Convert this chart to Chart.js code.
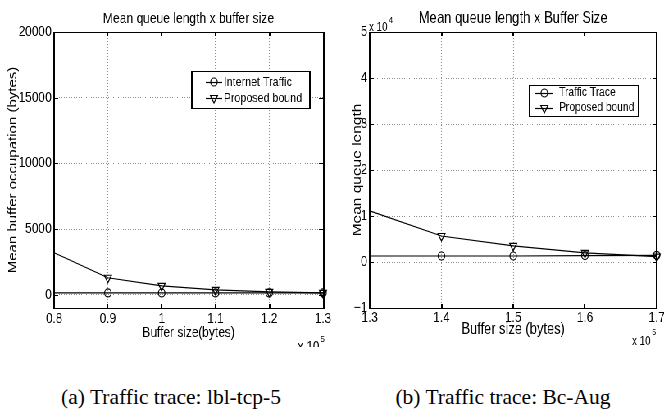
<!DOCTYPE html>
<html>
<head>
<meta charset="utf-8">
<script src="https://cdn.jsdelivr.net/npm/chart.js@4.4.0/dist/chart.umd.min.js"></script>
<style>
body { margin: 0; background: #fff; width: 664px; height: 410px; overflow: hidden; position: relative; }
#plots { position: absolute; left: 0; top: 0; width: 810px; height: 355px; transform: scaleX(0.8198); transform-origin: 0 0; }
#plots canvas { position: absolute; top: 0; }
.cap { position: absolute; top: 385px; width: 300px; text-align: center; font: 21.5px 'Liberation Serif', 'Times New Roman', serif; line-height: 24px; color: #000; white-space: nowrap; }
</style>
</head>
<body>
<div id="plots">
	<canvas id="chartA" width="405" height="347" style="left:0"></canvas>
	<canvas id="chartB" width="405" height="355" style="left:405px"></canvas>
</div>
<div class="cap" style="left:21px">(a) Traffic trace: lbl-tcp-5</div>
<div class="cap" style="left:353px">(b) Traffic trace: Bc-Aug</div>
<script>
'use strict';

// (a) lbl-tcp-5
var bufferA = [80000, 90000, 100000, 110000, 120000, 130000];
var trafficA = [150, 150, 150, 150, 150, 150];
var boundA = [3200, 1300, 680, 380, 220, 150];
var xTicksA = [80000, 90000, 100000, 110000, 120000, 130000];
var yTicksA = [0, 5000, 10000, 15000, 20000];

// (b) Bc-Aug
var bufferB = [130000, 140000, 150000, 160000, 170000];
var traceB = [1300, 1300, 1300, 1400, 1450];
var boundB = [11100, 5650, 3500, 2000, 1150];
var xTicksB = [130000, 140000, 150000, 160000, 170000];
var yTicksB = [-10000, 0, 10000, 20000, 30000, 40000, 50000];

var FAMILY = "'Liberation Sans', Arial, Helvetica, sans-serif";
var SQUEEZE = 0.8198; // horizontal scale applied to #plots
Chart.defaults.font.family = FAMILY;
Chart.defaults.color = '#000';

function series(label, xs, ys, style, radius) {
	return {
		label: label,
		data: xs.map(function (x, i) { return {x: x, y: ys[i]}; }),
		borderColor: '#000',
		borderWidth: 1.2,
		tension: 0,
		clip: false,
		pointStyle: style,
		pointRotation: style === 'triangle' ? 180 : 0,
		// first marker sits on the left frame and is not drawn in the original
		pointRadius: function (ctx) { return ctx.dataIndex === 0 ? 0 : radius; },
		pointHoverRadius: 0,
		pointBorderColor: '#000',
		pointBorderWidth: 1.2,
		pointBackgroundColor: 'rgba(0,0,0,0)',
		markerRadius: radius
	};
}

function drawMarker(ctx, style, x, y, r) {
	ctx.beginPath();
	if (style === 'circle') {
		ctx.arc(x, y, r, 0, Math.PI * 2);
	} else {
		ctx.moveTo(x, y + r);
		ctx.lineTo(x - r * 0.866, y - r / 2);
		ctx.lineTo(x + r * 0.866, y - r / 2);
		ctx.closePath();
	}
	ctx.stroke();
}

// vertical rule that stays one dark pixel after the horizontal squeeze
function vline(ctx, x, y0, y1, off) {
	var j = Math.round((off + x) * SQUEEZE - 0.5);
	var u = (j + 0.5) / SQUEEZE - off;
	var i = Math.floor(u - 0.5);
	ctx.fillRect(i, y0, 2, y1 - y0);
}

function hline(ctx, x0, x1, y) {
	ctx.fillRect(x0, Math.round(y), x1 - x0, 1);
}

var framePlugin = {
	id: 'frame',
	afterDraw: function (chart, args, opts) {
		var ctx = chart.ctx;
		var a = chart.chartArea;
		var off = opts.offset;
		var T = Math.round(a.top), B = Math.round(a.bottom);
		var L = Math.round(a.left), R = Math.round(a.right);
		ctx.save();
		ctx.fillStyle = '#000';

		// inner tick marks on all four sides
		chart.scales.x.ticks.forEach(function (t) {
			var px = chart.scales.x.getPixelForValue(t.value);
			vline(ctx, px, B - 4, B, off);
			vline(ctx, px, T, T + 4, off);
		});
		chart.scales.y.ticks.forEach(function (t) {
			var py = chart.scales.y.getPixelForValue(t.value);
			hline(ctx, L, L + 5, py);
			hline(ctx, R - 5, R, py);
		});
		hline(ctx, L, R + 1, T);
		hline(ctx, L, R + 1, B);
		vline(ctx, L, T, B + 1, off);
		vline(ctx, R, T, B + 1, off);

		// legend box
		var lg = opts.legend;
		ctx.fillStyle = '#fff';
		ctx.fillRect(lg.x, lg.y, lg.w, lg.h);
		ctx.fillStyle = '#000';
		hline(ctx, lg.x, lg.x + lg.w + 1, lg.y);
		hline(ctx, lg.x, lg.x + lg.w + 1, lg.y + lg.h);
		vline(ctx, lg.x, lg.y, lg.y + lg.h + 1, off);
		vline(ctx, lg.x + lg.w, lg.y, lg.y + lg.h + 1, off);

		ctx.strokeStyle = '#000';
		ctx.lineWidth = 1.2;
		ctx.font = lg.size + 'px ' + FAMILY;
		ctx.textAlign = 'left';
		ctx.textBaseline = 'middle';
		chart.data.datasets.forEach(function (ds, i) {
			var y = lg.rows[i];
			ctx.beginPath();
			ctx.moveTo(lg.x0, y + 0.5);
			ctx.lineTo(lg.x1, y + 0.5);
			ctx.stroke();
			drawMarker(ctx, ds.pointStyle, (lg.x0 + lg.x1) / 2, y, ds.markerRadius);
			ctx.fillText(ds.label, lg.textX, y);
		});

		// "x 10^n" scale notes
		ctx.textBaseline = 'alphabetic';
		(opts.notes || []).forEach(function (n) {
			ctx.font = n.size + 'px ' + FAMILY;
			ctx.fillText('x 10', n.x, n.y);
			var w = ctx.measureText('x 10').width;
			ctx.font = n.supSize + 'px ' + FAMILY;
			ctx.fillText(n.exp, n.x + w + 1.5, n.y - n.rise);
		});
		ctx.restore();
	}
};

function makeChart(id, o) {
	return new Chart(document.getElementById(id).getContext('2d'), {
		type: 'line',
		data: {datasets: o.datasets},
		options: {
			responsive: false,
			animation: false,
			events: [],
			layout: {padding: {left: 0, top: 0, right: o.padRight, bottom: 0}},
			scales: {
				x: {
					type: 'linear',
					min: o.xTicks[0],
					max: o.xTicks[o.xTicks.length - 1],
					afterBuildTicks: function (axis) {
						axis.ticks = o.xTicks.map(function (v) { return {value: v}; });
					},
					afterFit: function (axis) {
						axis.height = o.xHeight;
						axis.paddingLeft = 0;
						axis.paddingRight = 0;
					},
					grid: {color: '#8c8c8c', drawTicks: false},
					border: {display: false, dash: [1, 2]},
					ticks: {
						font: {size: o.tickSize},
						padding: o.xTickPad,
						maxRotation: 0,
						autoSkip: false,
						callback: function (v) { return String(Math.round(v / 1e4) / 10); }
					},
					title: {display: true, text: o.xTitle, font: {size: o.xTitleSize}, padding: {top: 0, bottom: o.xTitlePad}}
				},
				y: {
					type: 'linear',
					min: o.yMin,
					max: o.yMax,
					afterBuildTicks: function (axis) {
						axis.ticks = o.yTicks.map(function (v) { return {value: v}; });
					},
					afterFit: function (axis) {
						axis.width = o.yWidth;
						axis.paddingTop = 0;
						axis.paddingBottom = 0;
					},
					grid: {color: '#8c8c8c', drawTicks: false},
					border: {display: false, dash: [1, 2]},
					ticks: {font: {size: o.tickSize}, padding: 3, autoSkip: false, callback: o.yLabel},
					title: {display: true, text: o.yTitle, font: {size: o.yTitleSize}, padding: {top: o.yTitlePad, bottom: 0}}
				}
			},
			plugins: {
				legend: {display: false},
				tooltip: {enabled: false},
				title: {
					display: true,
					fullSize: false,
					text: o.title,
					color: '#000',
					font: {size: o.titleSize, weight: 'normal'},
					padding: {top: o.titlePadTop, bottom: 32 - o.titleSize * 1.2 - o.titlePadTop}
				},
				frame: {offset: o.offset, legend: o.legend, notes: o.notes}
			}
		},
		plugins: [framePlugin]
	});
}

makeChart('chartA', {
	datasets: [
		series('Internet Traffic', bufferA, trafficA, 'circle', 4),
		series('Proposed bound', bufferA, boundA, 'triangle', 5)
	],
	offset: 0,
	xTicks: xTicksA,
	yTicks: yTicksA,
	yMin: -1000,
	yMax: 20000,
	yLabel: function (v) { return String(v); },
	padRight: 11,
	xHeight: 39,
	yWidth: 66,
	tickSize: 14.5,
	xTickPad: 2,
	xTitle: 'Buffer size(bytes)',
	xTitleSize: 14.5,
	xTitlePad: 5,
	yTitle: 'Mean buffer occupation (bytes)',
	yTitleSize: 15,
	yTitlePad: 7,
	title: 'Mean queue length x buffer size',
	titleSize: 14.7,
	titlePadTop: 10,
	legend: {x: 234, y: 71, w: 144, h: 37, x0: 251, x1: 271, textX: 273, rows: [82, 98], size: 13},
	notes: [{x: 363, y: 351, size: 14, exp: '5', supSize: 9, rise: 9}]
});

makeChart('chartB', {
	datasets: [
		series('Traffic Trace', bufferB, traceB, 'circle', 4),
		series('Proposed bound', bufferB, boundB, 'triangle', 5)
	],
	offset: 405,
	xTicks: xTicksB,
	yTicks: yTicksB,
	yMin: -10000,
	yMax: 50000,
	yLabel: function (v) {
		var n = Math.round(v / 1e4);
		return n < 0 ? '\u2212' + (-n) : String(n);
	},
	padRight: 9,
	xHeight: 47,
	yWidth: 46,
	tickSize: 14.5,
	xTickPad: 1,
	xTitle: 'Buffer size (bytes)',
	xTitleSize: 15.7,
	xTitlePad: 15.5,
	yTitle: 'Mean queue length',
	yTitleSize: 15.5,
	yTitlePad: 21,
	title: 'Mean queue length x Buffer Size',
	titleSize: 15.9,
	titlePadTop: 9.5,
	legend: {x: 241, y: 85, w: 133, h: 31, x0: 248, x1: 270, textX: 277, rows: [93, 108], size: 12.5},
	notes: [
		{x: 366, y: 345, size: 12, exp: '5', supSize: 9, rise: 10},
		{x: 45, y: 31, size: 12, exp: '4', supSize: 9, rise: 8}
	]
});
</script>
</body>
</html>
